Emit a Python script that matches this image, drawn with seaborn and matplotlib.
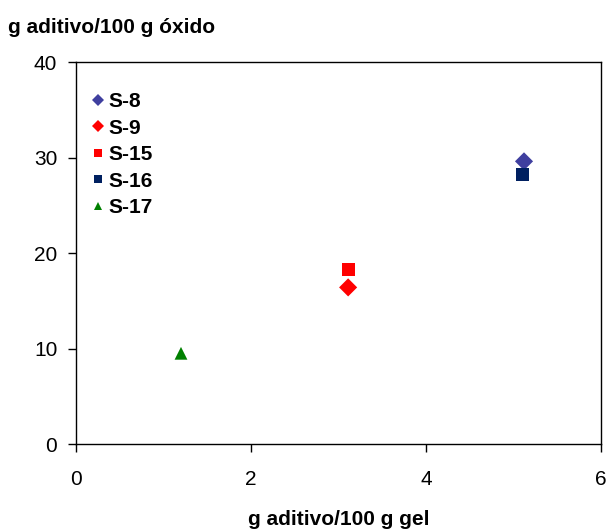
import matplotlib
matplotlib.use("Agg")
import matplotlib.pyplot as plt
import seaborn as sns
import pandas as pd

samples = ["S-8", "S-9", "S-15", "S-16", "S-17"]
x_vals = [5.12, 3.11, 3.11, 5.1, 1.2]
y_vals = [29.6, 16.4, 18.3, 28.2, 9.5]
colors = ["#3F3F9F", "#FF0000", "#FF0000", "#002060", "#008000"]
markers = ["D", "D", "s", "s", "^"]
x_ticks = [0, 2, 4, 6]
y_ticks = [0, 10, 20, 30, 40]

sns.set_theme(style="white")
plt.rcParams['font.family'] = ['Liberation Sans', 'DejaVu Sans']
plt.rcParams['text.color'] = 'black'
plt.rcParams['axes.labelcolor'] = 'black'

df = pd.DataFrame({"x": x_vals, "y": y_vals, "sample": samples})

fig = plt.figure(figsize=(6.08, 5.31), dpi=100)
ax = fig.add_axes([0.125, 0.1638, 0.8635, 0.7194])

sns.scatterplot(data=df, x="x", y="y", hue="sample", style="sample",
                palette=dict(zip(samples, colors)),
                markers=dict(zip(samples, markers)),
                s=85, linewidth=0, ax=ax, legend=True)

ax.set_xlim(0, 6)
ax.set_ylim(0, 40)
ax.set_xticks(x_ticks)
ax.set_yticks(y_ticks)
ax.tick_params(axis="both", which="major", direction="out", length=5.5, width=1,
               color="black", labelsize=15, labelcolor="black",
               bottom=True, left=True)
ax.tick_params(axis="x", pad=13)
ax.tick_params(axis="y", pad=8)
for sp in ax.spines.values():
    sp.set_color("black")
    sp.set_linewidth(1)
ax.set_xlabel("g aditivo/100 g gel", fontsize=15, fontweight="bold", labelpad=15)
ax.set_ylabel("")
fig.text(0.013, 0.949, "g aditivo/100 g óxido", fontsize=15, fontweight="bold",
         ha="left", va="center")

handles, labels = ax.get_legend_handles_labels()
leg = ax.legend(handles, labels, loc="upper left", bbox_to_anchor=(0.0103, 0.943),
                frameon=False, markerscale=0.65, handletextpad=0.08,
                handlelength=0.8, labelspacing=0.36, fontsize=15,
                borderaxespad=0.0, borderpad=0.4)
for t in leg.get_texts():
    t.set_fontweight("bold")

fig.savefig("out.png", dpi=100)
